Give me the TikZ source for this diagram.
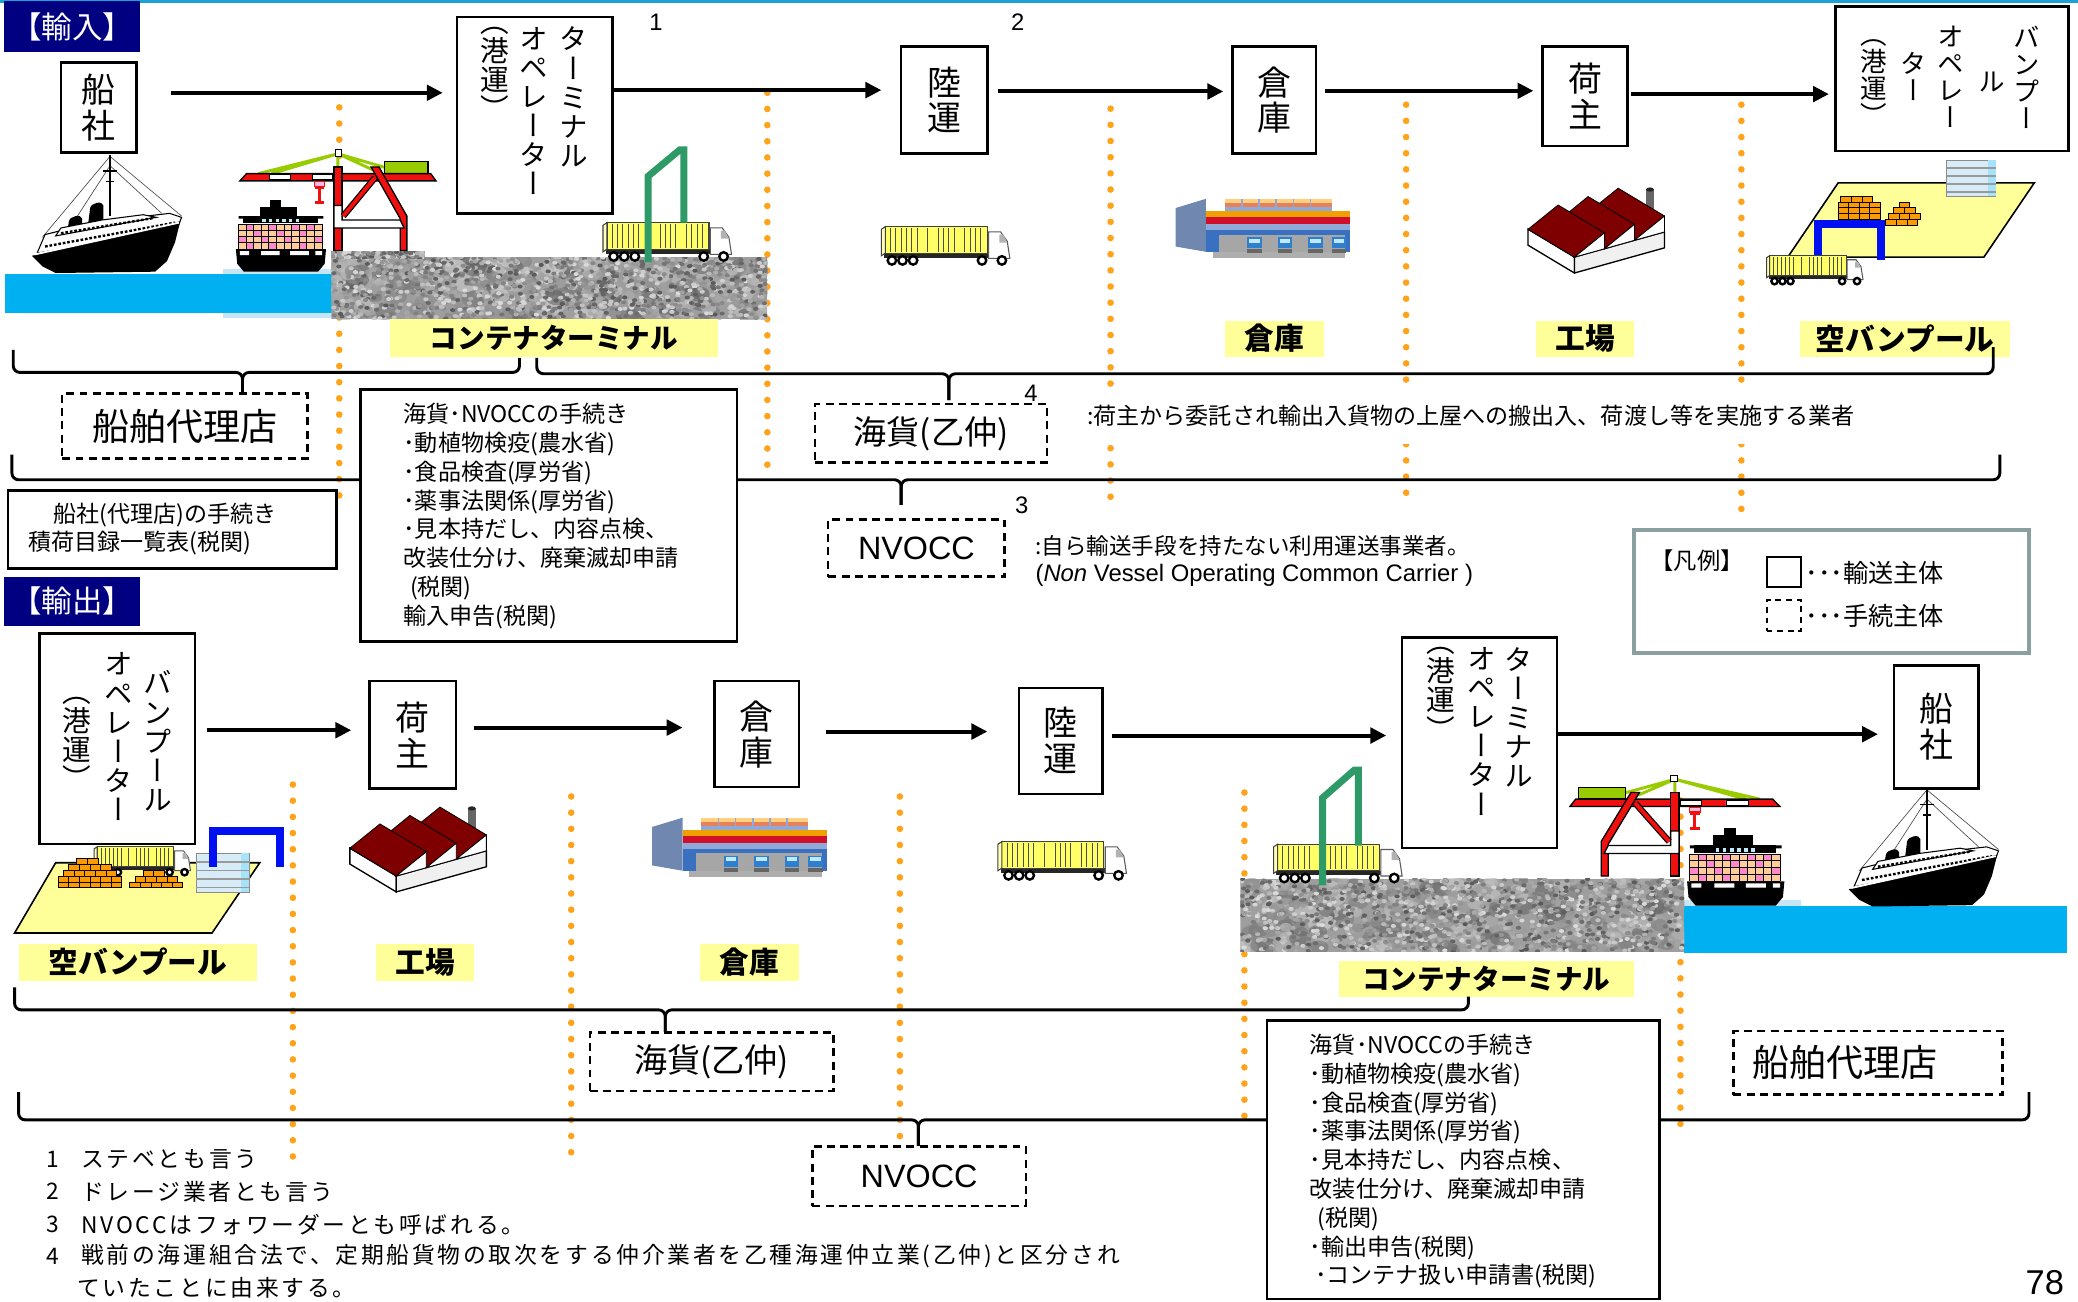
\documentclass[tikz,border=0pt]{standalone}
\usepackage{fontspec}
\setmainfont{Liberation Sans}
\newfontfamily\jp{Noto Sans CJK JP}
\newfontfamily\jpv[RawFeature=+vert]{Noto Sans CJK JP}
\newfontfamily\jpls[LetterSpace=12]{Noto Sans CJK JP}
\usetikzlibrary{arrows.meta,fit,calc}

\definecolor{navyl}{HTML}{000080}
\definecolor{topcyan}{HTML}{1BA1D6}
\definecolor{sea}{HTML}{00B0F0}
\definecolor{sealight}{HTML}{C6E6F8}
\definecolor{tagyellow}{HTML}{FFFF99}
\definecolor{dotor}{HTML}{FFA31A}
\definecolor{legendgray}{HTML}{8AA0A0}
\definecolor{cranered}{HTML}{F01010}
\definecolor{lime}{HTML}{99CC00}
\definecolor{carrier}{HTML}{2E9A68}
\definecolor{cargoyellow}{HTML}{FFFF66}
\definecolor{boxorange}{HTML}{FF9900}
\definecolor{gantryblue}{HTML}{0010F0}
\definecolor{roofred}{HTML}{7F0000}
\definecolor{peach}{HTML}{FFCC99}
\definecolor{pinkc}{HTML}{FF88CC}
\definecolor{whOrange}{HTML}{F0A000}
\definecolor{whRed}{HTML}{D0102A}
\definecolor{whBand}{HTML}{8FAAD8}
\definecolor{whBlue}{HTML}{3A70C0}
\definecolor{whSide}{HTML}{7088B0}
\definecolor{whTop}{HTML}{FFD080}
\definecolor{whSalmon}{HTML}{E8805A}
\definecolor{bldg}{HTML}{D8ECF8}
\definecolor{vanblue}{HTML}{2F7FD0}

\tikzset{
  tbox/.style={draw, line width=0.95pt, fill=white, inner sep=0pt},
  dbox/.style={draw, line width=0.9pt, dash pattern=on 3pt off 2pt, fill=white, inner sep=0pt},
  arr/.style={line width=1.5pt, -{Triangle[length=6pt,width=5.8pt]}},
  orangedots/.style={draw=dotor, line width=2.5pt, line cap=round, dash pattern=on 0pt off 6.1pt},
  bracket/.style={line width=1.1pt, rounded corners=2.5pt},
  vcol/.style={align=center, inner sep=0pt, font=\jpv\fontsize{10.8}{11}\selectfont},
  vcolS/.style={align=center, inner sep=0pt, font=\jpv\fontsize{10}{10.2}\selectfont},
  vpair/.style={align=center, inner sep=0pt, font=\jpv\fontsize{12.8}{13.5}\selectfont},
  tag/.style={fill=tagyellow, inner sep=0pt},
  tagtext/.style={inner sep=0pt, font=\jp\bfseries\fontsize{11.2}{12}\selectfont},
  tagtextK/.style={inner sep=0pt, font=\jp\bfseries\fontsize{10.4}{11}\selectfont},
  sectiontag/.style={fill=navyl, inner sep=0pt},
  sectiontext/.style={text=white, inner sep=0pt, font=\jp\fontsize{11.5}{12}\selectfont},
  bigtext/.style={inner sep=0pt, font=\jp\fontsize{14}{15}\selectfont},
  midtext/.style={inner sep=0pt, font=\jp\fontsize{12.5}{13}\selectfont},
  nvtext/.style={inner sep=0pt, font=\fontsize{12.2}{13}\selectfont},
  proc/.style={anchor=north west, align=left, inner sep=0pt, font=\jp\fontsize{8.7}{10.85}\selectfont},
  desc/.style={anchor=west, inner sep=0pt, font=\jp\fontsize{8.6}{10}\selectfont},
  note/.style={anchor=west, inner sep=0pt, font=\jpls\fontsize{8.6}{10}\selectfont},
  notenum/.style={inner sep=0pt, font=\jp\fontsize{8.6}{10}\selectfont},
  refnum/.style={inner sep=0pt, font=\fontsize{9}{10}\selectfont},
  carrierpath/.style={draw=carrier, line width=2.6pt},
}

% gravel yard: grey base, mottled patches, then fine grains
\newcommand\gravelArea[4]{%
  \begin{scope}
    \clip (#1,#2) rectangle (#3,#4);
    \fill[black!38] (#1,#2) rectangle (#3,#4);
    \foreach \k in {1,...,260}{%
      \pgfmathsetmacro\gx{#1+rnd*(#3-#1)}%
      \pgfmathsetmacro\gy{#2+rnd*(#4-#2)}%
      \pgfmathsetmacro\gc{int(18+45*rnd)}%
      \pgfmathsetmacro\gr{2+2.5*rnd}%
      \fill[black!\gc, opacity=0.55] (\gx,\gy) ellipse ({\gr*1pt} and {\gr*0.7pt});
    }
    \foreach \k in {1,...,1300}{%
      \pgfmathsetmacro\gx{#1+rnd*(#3-#1)}%
      \pgfmathsetmacro\gy{#2+rnd*(#4-#2)}%
      \pgfmathsetmacro\gc{int(14+52*rnd)}%
      \fill[black!\gc] (\gx,\gy) ellipse (1pt and 0.75pt);
    }
  \end{scope}}

% container truck, top-left corner at (#2,#3)
\newcommand\truckIcon[3][1]{%
  \begin{scope}[shift={(#2,#3)}, scale=#1]
    \fill[black!85] (2,20) rectangle (84,23.5);
    \filldraw[fill=cargoyellow, draw=black!75, line width=0.4pt] (3,0) rectangle (80,20);
    \filldraw[fill=cargoyellow!45, draw=black!75, line width=0.4pt] (0,2) -- (3,0) -- (3,20) -- (0,22) -- cycle;
    \foreach \s in {7,11,15,19,23,27,35,43,47,51,55,63,67,71,75}{\draw[black!70, line width=0.3pt] (\s,1) -- (\s,19);}
    \filldraw[fill=white, draw=black!65, line width=0.4pt] (81,4) -- (90,4) -- (95,11) -- (97,24) -- (81,24) -- cycle;
    \fill[black!30] (89,6) -- (92,6) -- (95,12) -- (89,12) -- cycle;
    \foreach \w in {8,16,24,76,91}{\filldraw[fill=white, draw=black, line width=0.9pt] (\w,25.5) circle (1.6pt);}
  \end{scope}}

% passenger liner, top-left corner at (#1,#2)
\newcommand\linerIcon[2]{%
  \begin{scope}[shift={(#1,#2)}]
    \draw[black!70, line width=0.25pt] (61,1) -- (115,46) (61,1) -- (10,62) (61,8) -- (30,56) (61,8) -- (100,44);
    \draw[line width=0.9pt] (61,0) -- (61,46);
    \draw[line width=0.6pt] (56,12) -- (66,12) (58,20) -- (64,20);
    \fill[black] (28,62) -- (30,50) to[out=80,in=100] (40,48) -- (40,58) -- cycle;
    \fill[black] (44,56) -- (46,40) to[out=80,in=100] (56,38) -- (56,52) -- cycle;
    \filldraw[fill=white, draw=black, line width=0.4pt] (6,74) -- (12,60) -- (40,53) -- (80,47) -- (106,44) -- (115,47) -- (112,55) -- cycle;
    \filldraw[fill=white, draw=black, line width=0.4pt] (20,61) -- (24,55) -- (55,49) -- (86,45) -- (96,47) -- cycle;
    \draw[black, line width=0.9pt, dash pattern=on 1pt off 0.7pt] (12,69) -- (110,51);
    \draw[black, line width=0.9pt, dash pattern=on 1pt off 0.7pt] (24,59) -- (94,47.5);
    \fill[black] (2,76) -- (114,50) -- (110,66) -- (104,80) -- (95,88) -- (20,89) -- (10,84) -- cycle;
    \draw[white, line width=0.7pt] (4,75) -- (113,51);
  \end{scope}}

% container ship, top-left corner at (#2,#3)
\newcommand\boxshipIcon[3][1]{%
  \begin{scope}[shift={(#2,#3)}, scale=#1]
    \fill[black] (26,0) rectangle (34,7);
    \fill[black] (18,5) rectangle (46,13);
    \fill[black] (5,12) rectangle (62,17);
    \fill[black] (2,12) rectangle (10,14) (57,12) rectangle (66,14);
    \foreach \wx in {20,25,30,35,40,45}{\fill[cyan!25] (\wx,14) rectangle (\wx+2.5,16.5);}
    \fill[peach] (2,18) rectangle (65,37);
    \foreach \ci/\cj in {1/0,4/0,7/0,9/0,2/1,5/1,8/1,0/2,3/2,6/2,10/2,1/3,4/3,8/3}{\fill[pinkc] (2+\ci*5.727,18+\cj*4.75) rectangle ++(5.727,4.75);}
    \foreach \ci in {0,...,11}{\draw[line width=0.35pt] (2+\ci*5.727,18) -- (2+\ci*5.727,37);}
    \foreach \cj in {0,...,4}{\draw[line width=0.35pt] (2,18+\cj*4.75) -- (65,18+\cj*4.75);}
    \fill[black] (0,37) -- (68,37) -- (67,48) -- (62,54) -- (6,54) -- (1,48) -- cycle;
    \fill[white] (3,38.5) rectangle (10,41.5) (19,38.5) rectangle (33,41.5) (41,38.5) rectangle (55,41.5) (60,38.5) rectangle (65,41.5);
  \end{scope}}

% gantry crane, top-left corner at (#1,#2), horizontal factor #3
\newcommand\craneIcon[3]{%
  \begin{scope}[shift={(#1,#2)}, xscale=#3]
    \draw[lime, line width=1.1pt] (74,3) -- (14,18) (74,3) -- (24,18) (74,3) -- (100,15) (74,3) -- (122,17) (74,3) -- (74,18);
    \filldraw[fill=lime, draw=black, line width=0.5pt] (109,9) rectangle (142,18);
    \filldraw[fill=cranered, draw=black, line width=0.5pt] (5,18) -- (144,18) -- (148,23.5) -- (0,23.5) -- cycle;
    \filldraw[fill=white, draw=black, line width=0.3pt] (22,18.8) rectangle (38,22.7) (55,18.8) rectangle (70,22.7);
    \filldraw[fill=pinkc!60, draw=cranered, line width=0.4pt] (56,24) rectangle (64,28);
    \draw[cranered, line width=1.2pt] (60,28) -- (60,40) (56.5,28.5) -- (63.5,28.5) (56.5,40) -- (63.5,40);
    \filldraw[fill=cranered, draw=black, line width=0.5pt] (99,13) -- (105,13) -- (126,50) -- (126,76) -- (121,76) -- (121,52) -- cycle;
    \filldraw[fill=cranered, draw=black, line width=0.5pt] (71,13) rectangle (77,76);
    \filldraw[fill=white, draw=black, line width=0.5pt] (71,42) -- (77,42) -- (77,53) -- (121,53) -- (124,59) -- (71,59) -- cycle;
    \draw[black, line width=2.4pt] (78,50) -- (102,21);
    \draw[cranered, line width=1.5pt] (78,50) -- (102,21);
    \filldraw[fill=white, draw=black, line width=0.4pt] (72,0) rectangle (77,5);
  \end{scope}}

% warehouse with loading bays, top-left corner at (#1,#2)
\newcommand\warehouseIcon[2]{%
  \begin{scope}[shift={(#1,#2)}]
    \fill[black!45, opacity=0.7] (28,42) rectangle (128,47);
    \fill[whSide] (0,9) -- (23,2) -- (23,42) -- (0,38) -- cycle;
    \fill[whTop] (37,2) rectangle (118,5.5);
    \fill[whSalmon] (37,5.5) rectangle (118,8.5);
    \fill[whBand] (37,8.5) rectangle (118,11);
    \foreach \px in {50,63,76,89,102}{\draw[whBand, line width=0.6pt] (\px,2) -- (\px,11);}
    \fill[whOrange] (23,11) rectangle (132,16);
    \fill[whRed] (23,16) rectangle (132,21);
    \fill[whBand] (23,21) rectangle (132,25.5);
    \fill[whBlue] (23,25.5) rectangle (132,42);
    \fill[black!35] (33,29) rectangle (128,42);
    \foreach \tx in {54,77,100,118}{%
      \fill[vanblue] (\tx,31) rectangle (\tx+11,39);
      \fill[cyan!25] (\tx+1.5,32) rectangle (\tx+9.5,35);
      \fill[black!60] (\tx,40) rectangle (\tx+11,43);}
  \end{scope}}

% saw-tooth roofed factory, top-left corner at (#1,#2)
\newcommand\factoryIcon[2]{%
  \begin{scope}[shift={(#1,#2)}]
    \fill[black!60] (90,3) rectangle (96,34);
    \fill[black!85] (93,3) ellipse (1.5pt and 0.8pt);
    \filldraw[fill=white, draw=black, line width=0.5pt] (1,33) -- (1,45) -- (36,66) -- (36,54) -- cycle;
    \filldraw[fill=black!6, draw=black, line width=0.5pt] (36,54) -- (36,66) -- (104,47) -- (104,35) -- cycle;
    \filldraw[fill=roofred, draw=black, line width=0.3pt] (46.3,20.3) -- (81.3,41.3) -- (104,23) -- (69,2) -- cycle;
    \filldraw[fill=roofred, draw=black, line width=0.3pt] (23.7,26.7) -- (58.7,47.7) -- (81.3,29.3) -- (46.3,8.3) -- cycle;
    \filldraw[fill=roofred, draw=black, line width=0.3pt] (1,33) -- (36,54) -- (58.7,35.7) -- (23.7,14.7) -- cycle;
    \filldraw[fill=white, draw=black, line width=0.3pt] (36,54) -- (58.7,35.7) -- (58.7,47.7) -- cycle;
    \filldraw[fill=white, draw=black, line width=0.3pt] (58.7,47.7) -- (81.3,29.3) -- (81.3,41.3) -- cycle;
    \filldraw[fill=white, draw=black, line width=0.3pt] (81.3,41.3) -- (104,23) -- (104,35) -- cycle;
  \end{scope}}

% row of stacked containers
\newcommand\brickRow[3]{\foreach \bi in {1,...,#3}{\filldraw[fill=boxorange, draw=black, line width=0.35pt] (#1+\bi*8-8,#2) rectangle ++(8,4.4);}}

% small office block
\newcommand\officeIcon[4]{%
  \filldraw[fill=bldg, draw=black!45, line width=0.3pt] (#1,#2) rectangle (#3,#4);
  \fill[cyan!35] ({#3-6},#2) rectangle (#3,#4);
  \foreach \lf in {0.22,0.44,0.66,0.88}{\draw[black!40, line width=0.6pt] (#1,{#2+\lf*(#4-#2)}) -- (#3,{#2+\lf*(#4-#2)});}}

\begin{document}
\begin{tikzpicture}[x=0.5pt,y=-0.5pt]
\pgfmathsetseed{20}
\useasboundingbox (0,0) rectangle (1568,982);
\fill[white] (0,0) rectangle (1568,982);
\fill[topcyan] (0,0) rectangle (1568,2.5);

% boundaries between the stages
\foreach \dx/\ya/\yb in {256/81/384, 579/70/360, 838/82/386, 1061/79/384, 1314/79/396,
                         221/592/873, 431/601/870, 679/601/860, 939/598/854, 1268/604/856}
  \draw[orangedots] (\dx,\ya) -- (\dx,\yb);

% ---------- import: scenery ----------
\fill[sealight] (168,203) rectangle (256,240);
\fill[sea] (4,207) rectangle (256,236);
\linerIcon{22}{117}
\boxshipIcon{178}{151}
\gravelArea{250}{194}{579}{241}
\gravelArea{250}{190}{320}{195}
\craneIcon{181}{113}{1}
\truckIcon{455}{168}
\draw[carrierpath] (489,198) -- (489,133) -- (513,113) -- (516,113) -- (516,168);
\truckIcon{665}{171}
\warehouseIcon{887}{148}
\factoryIcon{1152}{140}
% empty van pool
\filldraw[fill=tagyellow, draw=black, line width=0.6pt] (1387,138) -- (1535,138) -- (1497,194) -- (1349,194) -- cycle;
\officeIcon{1469}{121}{1506}{148}
\brickRow{1387}{165.6}{4}\brickRow{1387}{161.2}{4}\brickRow{1387}{156.8}{4}\brickRow{1387}{152.4}{4}\brickRow{1389}{148}{3}
\brickRow{1423}{165.6}{3}\brickRow{1425}{161.2}{3}\brickRow{1429}{156.8}{2}\brickRow{1433}{152.4}{1}
\draw[gantryblue, line width=3pt] (1372,196) -- (1372,169) -- (1419,169) -- (1419,196);
\truckIcon[0.75]{1333}{193}

% ---------- export: scenery ----------
\fill[sealight] (1271,679) rectangle (1359,719);
\fill[sea] (1271,684) rectangle (1560,719);
\linerIcon{1393}{595}
\boxshipIcon[1.08]{1273}{625}
\gravelArea{936}{663}{1271}{718}
\craneIcon{1343}{585}{-1.07}
\truckIcon{961}{637}
\draw[carrierpath] (998,668) -- (998,602) -- (1022,581) -- (1025,581) -- (1025,638);
\truckIcon{753}{635}
\warehouseIcon{492}{615}
\factoryIcon{263}{607}
\filldraw[fill=tagyellow, draw=black, line width=0.6pt] (42,651) -- (196,651) -- (160,704) -- (11,704) -- cycle;
\truckIcon[0.75]{71}{639}
\brickRow{44}{665.6}{6}\brickRow{44}{661.2}{6}\brickRow{48}{656.8}{5}\brickRow{52}{652.4}{4}\brickRow{58}{648}{2}
\brickRow{98}{665.6}{5}\brickRow{102}{661.2}{4}\brickRow{108}{656.8}{2}
\officeIcon{148}{644}{188}{673}
\draw[gantryblue, line width=3pt] (161,654) -- (161,627) -- (211,627) -- (211,654);

% ---------- place labels ----------
\node[tag, fit={(294,241)(542,269)}] (tagTermI) {};
\node[tagtextK] at (tagTermI) {コンテナターミナル};
\node[tag, fit={(924,242)(999,269)}] (tagWareI) {};
\node[tagtext] at (tagWareI) {倉庫};
\node[tag, fit={(1159,242)(1233,269)}] (tagFacI) {};
\node[tagtext] at (tagFacI) {工場};
\node[tag, fit={(1358,242)(1517,269)}] (tagPoolI) {};
\node[tagtext] at (tagPoolI) {空バンプール};
\node[tag, fit={(14,712)(194,740)}] (tagPoolE) {};
\node[tagtext] at (tagPoolE) {空バンプール};
\node[tag, fit={(284,712)(358,740)}] (tagFacE) {};
\node[tagtext] at (tagFacE) {工場};
\node[tag, fit={(528,712)(603,740)}] (tagWareE) {};
\node[tagtext] at (tagWareE) {倉庫};
\node[tag, fit={(1010,725)(1233,752)}] (tagTermE) {};
\node[tagtextK] at (tagTermE) {コンテナターミナル};

% ---------- brackets ----------
\coordinate (bA) at (183,297);
\coordinate (bB) at (716,302);
\coordinate (bC) at (680,381);
\coordinate (bD) at (502,779);
\coordinate (bE) at (693,866);
\draw[bracket] (10,264) -- (10,281) -- (183,281) -- (bA);
\draw[bracket] (bA) -- (183,281) -- (392,281) -- (392,270);
\draw[bracket] (405,270) -- (405,282) -- (716,282) -- (bB);
\draw[bracket] (bB) -- (716,282) -- (1504,282) -- (1504,262);
\draw[bracket] (9,343) -- (9,362) -- (680,362) -- (bC);
\draw[bracket] (bC) -- (680,362) -- (1509,362) -- (1509,343);
\draw[bracket] (11,745) -- (11,762) -- (502,762) -- (bD);
\draw[bracket] (bD) -- (502,762) -- (1108,762) -- (1108,752);
\draw[bracket] (14,824) -- (14,845) -- (693,845) -- (bE);
\draw[bracket] (bE) -- (693,845) -- (1531,845) -- (1531,824);

% ---------- import: actors ----------
\node[sectiontag, fit={(3,1)(106,39)}] (tagIn) {};
\node[sectiontext] at (tagIn) {【輸入】};
\node[tbox, fit={(46,47)(103,115)}] (impShip) {};
\node[vpair] at (impShip) {船\\社};
\node[tbox, fit={(345,13)(462,161)}] (impTerm) {};
\node[vcol, anchor=north] (impTermA) at (433,20) {タ\\ー\\ミ\\ナ\\ル};
\node[vcol, anchor=north] (impTermB) at (403,20) {オ\\ペ\\レ\\ー\\タ\\ー};
\node[vcol, anchor=north] (impTermC) at (373,20) {（\\港\\運\\）};
\node[tbox, fit={(680,35)(745,116)}] (impLand) {};
\node[vpair] at (impLand) {陸\\運};
\node[tbox, fit={(930,35)(993,116)}] (impWare) {};
\node[vpair] at (impWare) {倉\\庫};
\node[tbox, fit={(1164,35)(1228,110)}] (impOwner) {};
\node[vpair] at (impOwner) {荷\\主};
\node[tbox, fit={(1385,5)(1561,114)}] (impPool) {};
\node[vcolS] (impPoolA) at (1529,58) {バ\\ン\\プ\\ー};
\node[vcolS] (impPoolB) at (1503,62) {ル};
\node[vcolS] (impPoolC) at (1472,58) {オ\\ペ\\レ\\ー};
\node[vcolS] (impPoolD) at (1444,58) {タ\\ー};
\node[vcolS] (impPoolE) at (1414,62) {（\\港\\運\\）};

\draw[arr, shorten <=12.5pt, shorten >=5pt] (impShip.east |- 0,70) -- (impTerm.west |- 0,70);
\draw[arr, shorten >=7pt] (impTerm.east |- 0,68) -- (impLand.west |- 0,68);
\draw[arr, shorten <=3.5pt, shorten >=3pt] (impLand.east |- 0,69) -- (impWare.west |- 0,69);
\draw[arr, shorten <=3pt, shorten >=3pt] (impWare.east |- 0,68.5) -- (impOwner.west |- 0,68.5);
\draw[arr, shorten <=1pt, shorten >=2pt] (impOwner.east |- 0,71) -- (impPool.west |- 0,71);

\node[refnum] (refOne) at (495,17) {1};
\node[refnum] (refTwo) at (768,17) {2};
\node[refnum] (refFour) at (778,297) {4};
\node[refnum] (refThree) at (771,381) {3};

% ---------- import: procedures ----------
\node[dbox, fit={(47,297)(232,346)}] (impAgent) {};
\node[bigtext] at (impAgent) {船舶代理店};
\node[tbox, fit={(6,370)(254,429)}] (impLineDoc) {};
\node[desc, font=\jp\fontsize{8.7}{10}\selectfont] (impLineDocA) at (40,389) {船社(代理店)の手続き};
\node[desc, font=\jp\fontsize{8.7}{10}\selectfont] (impLineDocB) at (21,410) {積荷目録一覧表(税関)};
\node[tbox, fit={(272,294)(556,484)}] (impProc) {};
\node[proc] (impProcText) at (304,304) {海貨･NVOCCの手続き\\
･動植物検疫(農水省)\\
･食品検査(厚労省)\\
･薬事法関係(厚労省)\\
･見本持だし、内容点検、\\
改装仕分け、廃棄滅却申請\\
\hspace*{2.5pt}(税関)\\
輸入申告(税関)};
\node[dbox, fit={(615,305)(790,349)}] (impKaika) {};
\node[midtext] at (impKaika) {海貨(乙仲)};
\node[dbox, fit={(625,392)(758,435)}] (impNvocc) {};
\node[nvtext] at (impNvocc) {NVOCC};
\node[desc, fill=white, inner xsep=1pt, minimum height=21pt, font=\jp\fontsize{8.7}{10}\selectfont] (kaikaDesc) at (818,314) {:荷主から委託され輸出入貨物の上屋への搬出入、荷渡し等を実施する業者};
\node[desc, font=\jp\fontsize{8.5}{10}\selectfont] (nvoccDesc) at (781,412) {:自ら輸送手段を持たない利用運送事業者。};
\node[desc, font=\fontsize{9}{10}\selectfont] (nvoccFull) at (781,434) {(\textit{Non} Vessel Operating Common Carrier )};

% ---------- legend ----------
\node[draw=legendgray, line width=1.6pt, inner sep=0pt, fit={(1233,400)(1531,493)}] (legend) {};
\node[desc, font=\jp\fontsize{8.8}{10}\selectfont] (legendTitle) at (1245,423) {【凡例】};
\node[draw, line width=0.7pt, inner sep=0pt, fit={(1333,420)(1359,443)}] (keySolid) {};
\node[draw, line width=0.7pt, dash pattern=on 2.2pt off 1.8pt, inner sep=0pt, fit={(1333,453)(1359,476)}] (keyDashed) {};
\node[desc, font=\jp\fontsize{9.5}{10}\selectfont] (keySolidText) at (1362,432) {･･･輸送主体};
\node[desc, font=\jp\fontsize{9.5}{10}\selectfont] (keyDashedText) at (1362,465) {･･･手続主体};

% ---------- export: actors ----------
\node[sectiontag, fit={(3,435)(106,472)}] (tagOut) {};
\node[sectiontext] at (tagOut) {【輸出】};
\node[tbox, fit={(30,478)(147,637)}] (expPool) {};
\node[vcol] (expPoolA) at (119,559) {バ\\ン\\プ\\ー\\ル};
\node[vcol] (expPoolB) at (90,556) {オ\\ペ\\レ\\ー\\タ\\ー};
\node[vcol] (expPoolC) at (58,561) {（\\港\\運\\）};
\node[tbox, fit={(279,514)(344,595)}] (expOwner) {};
\node[vpair] at (expOwner) {荷\\主};
\node[tbox, fit={(539,514)(603,594)}] (expWare) {};
\node[vpair] at (expWare) {倉\\庫};
\node[tbox, fit={(769,519)(832,599)}] (expLand) {};
\node[vpair] at (expLand) {陸\\運};
\node[tbox, fit={(1058,481)(1175,640)}] (expTerm) {};
\node[vcol, anchor=north] (expTermA) at (1146,488) {タ\\ー\\ミ\\ナ\\ル};
\node[vcol, anchor=north] (expTermB) at (1118,488) {オ\\ペ\\レ\\ー\\タ\\ー};
\node[vcol, anchor=north] (expTermC) at (1087,488) {（\\港\\運\\）};
\node[tbox, fit={(1429,502)(1493,595)}] (expShip) {};
\node[vpair] at (expShip) {船\\社};

\draw[arr, shorten <=4pt, shorten >=6.5pt] (expPool.east |- 0,551) -- (expOwner.west |- 0,551);
\draw[arr, shorten <=6.5pt, shorten >=11.5pt] (expOwner.east |- 0,549) -- (expWare.west |- 0,549);
\draw[arr, shorten <=9.5pt, shorten >=11.5pt] (expWare.east |- 0,552) -- (expLand.west |- 0,552);
\draw[arr, shorten <=3pt, shorten >=5.5pt] (expLand.east |- 0,555) -- (expTerm.west |- 0,555);
\draw[arr, shorten >=5.5pt] (expTerm.east |- 0,554) -- (expShip.west |- 0,554);

% ---------- export: procedures ----------
\node[dbox, fit={(445,779)(629,823)}] (expKaika) {};
\node[midtext] at (expKaika) {海貨(乙仲)};
\node[dbox, fit={(613,865)(774,910)}] (expNvocc) {};
\node[nvtext] at (expNvocc) {NVOCC};
\node[tbox, fit={(956,770)(1252,980)}] (expProc) {};
\node[proc] (expProcText) at (988,780) {海貨･NVOCCの手続き\\
･動植物検疫(農水省)\\
･食品検査(厚労省)\\
･薬事法関係(厚労省)\\
･見本持だし、内容点検、\\
改装仕分け、廃棄滅却申請\\
\hspace*{3pt}(税関)\\
･輸出申告(税関)\\
\hspace*{2pt}･コンテナ扱い申請書(税関)};
\node[dbox, fit={(1308,778)(1511,826)}] (expAgent) {};
\node[bigtext] (expAgentText) at (1392,802) {船舶代理店};

% ---------- notes ----------
\node[notenum] (fnNumA) at (40,875) {1};
\node[note] (fnA) at (61,875) {ステベとも言う};
\node[notenum] (fnNumB) at (40,899) {2};
\node[note] (fnB) at (61,899) {ドレージ業者とも言う};
\node[notenum] (fnNumC) at (40,924) {3};
\node[note] (fnC) at (61,924) {NVOCCはフォワーダーとも呼ばれる。};
\node[notenum] (fnNumD) at (40,948) {4};
\node[note] (fnD) at (61,948) {戦前の海運組合法で、定期船貨物の取次をする仲介業者を乙種海運仲立業(乙仲)と区分され};
\node[note] (fnDcont) at (58,972) {ていたことに由来する。};

\node[inner sep=0pt, font=\fontsize{13}{14}\selectfont] (pageNo) at (1543,968) {78};
\end{tikzpicture}
\end{document}
